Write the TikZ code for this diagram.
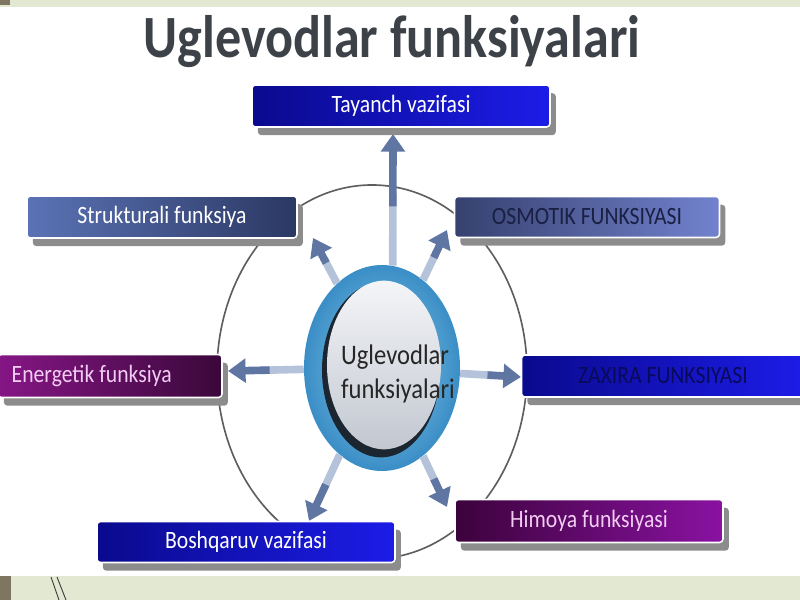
\documentclass[tikz,border=0pt]{standalone}
\usepackage{fontspec}
\setmainfont{Carlito}
\usetikzlibrary{arrows.meta,calc,shapes.geometric,shadows}
\definecolor{titlegray}{HTML}{3C4248}
\definecolor{orbitgray}{HTML}{5E5E5E}
\definecolor{spoke}{HTML}{5F76A3}
\definecolor{spokelight}{HTML}{B4C2DA}
\definecolor{ringblue}{HTML}{3A8EC6}
\definecolor{ringlight}{HTML}{8ECAEA}
\definecolor{coredark}{HTML}{1C2630}
\definecolor{corelight}{HTML}{F4F5F8}
\definecolor{coregray}{HTML}{C2C7D0}
\definecolor{navyA}{HTML}{0A0A8E}
\definecolor{navyB}{HTML}{1C1CE8}
\definecolor{slateA}{HTML}{5B73B5}
\definecolor{slateB}{HTML}{2B3863}
\definecolor{duskA}{HTML}{36416F}
\definecolor{duskB}{HTML}{7282CE}
\definecolor{plumA}{HTML}{861686}
\definecolor{plumB}{HTML}{3A083A}
\definecolor{violetA}{HTML}{3C023C}
\definecolor{violetB}{HTML}{8A12A2}
\definecolor{pinktext}{HTML}{F2CCF2}
\definecolor{inktext}{HTML}{1A2044}
\definecolor{deeptext}{HTML}{0A0A5A}
\definecolor{shadowgray}{HTML}{8C8C8C}
\definecolor{bandgreen}{HTML}{E3E8D3}
\definecolor{bandolive}{HTML}{7E7660}
\newcommand{\tall}[1]{\scalebox{1}[1.15]{#1}}
\tikzset{
  func/.style={
    rounded corners=3pt, draw=white, line width=1.3pt,
    minimum height=12.6mm, inner sep=0pt, text=white,
    font=\fontsize{18.5}{20}\selectfont,
    drop shadow={shadow xshift=5pt, shadow yshift=-7pt, fill=shadowgray, opacity=1}
  },
  navybox/.style={func, left color=navyA, right color=navyB},
  slatebox/.style={func, left color=slateA, right color=slateB},
  duskbox/.style={func, left color=duskA, right color=duskB, text=inktext},
  plumbox/.style={func, left color=plumA, right color=plumB, text=pinktext},
  violetbox/.style={func, left color=violetA, right color=violetB, text=pinktext},
  spoketail/.style={draw=spokelight, line width=6.5pt},
  spokearrow/.style={-{Triangle[width=20pt,length=15pt]}, draw=spoke, line width=6.5pt},
  orbit/.style={draw=orbitgray, line width=1.4pt}
}

\begin{document}
\begin{tikzpicture}[x=0.03cm, y=-0.03cm]
  \path[use as bounding box, clip] (0,0) rectangle (800,600);

  % slide decoration
  \fill[bandgreen] (0,0) rectangle (800,7);
  \fill[bandolive] (0,0) rectangle (10,5);
  \fill[bandgreen] (0,576) rectangle (800,600);
  \fill[bandolive] (0,576) rectangle (11,600);
  \draw[black!75, line width=0.8pt] (51,577) -- (59,600) (57,577) -- (66,600);

  \node[font=\bfseries\fontsize{44.5}{50}\selectfont, text=titlegray] (title) at (392,42) {\tall{Uglevodlar funksiyalari}};

  \node[ellipse, orbit, minimum width=93mm, minimum height=112.2mm] (outer) at (372,372) {};

  % centre ring
  \node[ellipse, minimum width=46.8mm, minimum height=61.8mm, inner color=ringlight, outer color=ringblue] (ring) at (382,368) {};
  \node[ellipse, fill=coredark, minimum width=35.4mm, minimum height=52.4mm] (core) at (381,370) {};
  \node[ellipse, top color=corelight, bottom color=coregray, minimum width=34.2mm, minimum height=50.6mm] (coretop) at (384,365) {};
  \node[text=black!85, font=\fontsize{21}{24}\selectfont] (centre) at (398,375)
    {\tall{\begin{tabular}{@{}l@{}}Uglevodlar\\[1pt]funksiyalari\end{tabular}}};

  % arrow tips
  \coordinate (tipT) at (393,134);
  \coordinate (tipUL) at (313,238);
  \coordinate (tipUR) at (447,230);
  \coordinate (tipL) at (228,371);
  \coordinate (tipR) at (521,377);
  \coordinate (tipDL) at (309,521);
  \coordinate (tipDR) at (447,507);

  \foreach \from/\tip in {ring.84/tipT, ring.118/tipUL, ring.65/tipUR, ring.181/tipL,
                          ring.356/tipR, ring.244/tipDL, ring.295/tipDR}{
    \draw[spoketail] (\from) -- ($(\from)!0.55!(\tip)$);
    \draw[spokearrow] ($(\from)!0.45!(\tip)$) -- (\tip);
  }

  % function boxes
  \node[navybox, minimum width=89.4mm] (tayanch) at (401,106) {\tall{Tayanch vazifasi}};
  \node[slatebox, minimum width=81mm] (struktur) at (162,217) {\tall{Strukturali funksiya}};
  \node[duskbox, minimum width=79.5mm, minimum height=12.3mm] (osmotik) at (587,217) {\tall{OSMOTIK FUNKSIYASI}};
  \node[plumbox, minimum width=67.2mm, minimum height=12.9mm] (energetik) at (110,376) {\tall{Energetik funksiya}\hspace*{11mm}};
  \node[navybox, minimum width=84.9mm, text=deeptext] (zaxira) at (663,376) {\tall{ZAXIRA FUNKSIYASI}};
  \node[violetbox, minimum width=80.4mm, minimum height=12.9mm] (himoya) at (589,521) {\tall{Himoya funksiyasi}};
  \node[navybox, minimum width=89.4mm, minimum height=12.3mm] (boshqaruv) at (246,542) {\tall{Boshqaruv vazifasi}};
\end{tikzpicture}
\end{document}
